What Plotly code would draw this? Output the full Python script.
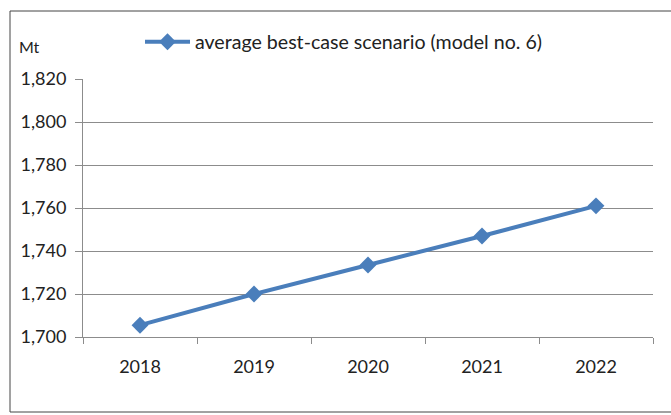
import plotly.graph_objects as go

# Forecast values, Mt
years = ["2018", "2019", "2020", "2021", "2022"]
best_case = [1705.5, 1720, 1733.5, 1747, 1761]
series_name = "average best-case scenario (model no. 6)"
y_ticks = [1700, 1720, 1740, 1760, 1780, 1800, 1820]

W, H = 671, 415
L, R, T, B = 83, 18, 79, 78
pw, ph = W - L - R, H - T - B

def px_x(p):
    return (p - L) / pw

def px_y(p):
    return 1 - (p - T) / ph

blue = "#4a7ebb"
grid = "#8c8c8c"
font = "Lato"

fig = go.Figure()
fig.add_trace(go.Scatter(
    x=years, y=best_case, name=series_name, mode="lines+markers",
    line=dict(color=blue, width=4),
    marker=dict(symbol="diamond", size=13, color=blue),
))

fig.update_layout(
    width=W, height=H,
    margin=dict(l=L, r=R, t=T, b=B),
    paper_bgcolor="white", plot_bgcolor="white",
    font=dict(family=font, size=18, color="#222"),
    showlegend=True,
    legend=dict(orientation="h", x=px_x(140), y=px_y(42), xanchor="left", yanchor="middle",
                bgcolor="rgba(0,0,0,0)", font=dict(size=19.6), itemwidth=45),
    xaxis=dict(type="category", range=[-0.5, 4.5], showline=True, linecolor=grid, linewidth=1,
               ticks="outside", tickson="boundaries", ticklen=6, tickcolor=grid,
               ticklabelstandoff=13, showgrid=False, tickfont=dict(size=18)),
    yaxis=dict(range=[1700, 1820], tickvals=y_ticks, tickformat=",",
               showline=True, linecolor=grid, linewidth=1,
               ticks="outside", ticklen=7, tickcolor=grid, ticklabelstandoff=5,
               showgrid=True, gridcolor=grid, gridwidth=1,
               zeroline=False, tickfont=dict(size=18)),
    shapes=[dict(type="rect", xref="paper", yref="paper",
                 x0=px_x(10), x1=px_x(680), y0=px_y(412), y1=px_y(11),
                 line=dict(color="#444", width=1), fillcolor="rgba(0,0,0,0)")],
    annotations=[dict(text="Mt", xref="paper", yref="paper", x=px_x(29), y=px_y(46),
                      xanchor="center", yanchor="middle", showarrow=False,
                      font=dict(size=16))],
)

fig.write_html("out.html")
